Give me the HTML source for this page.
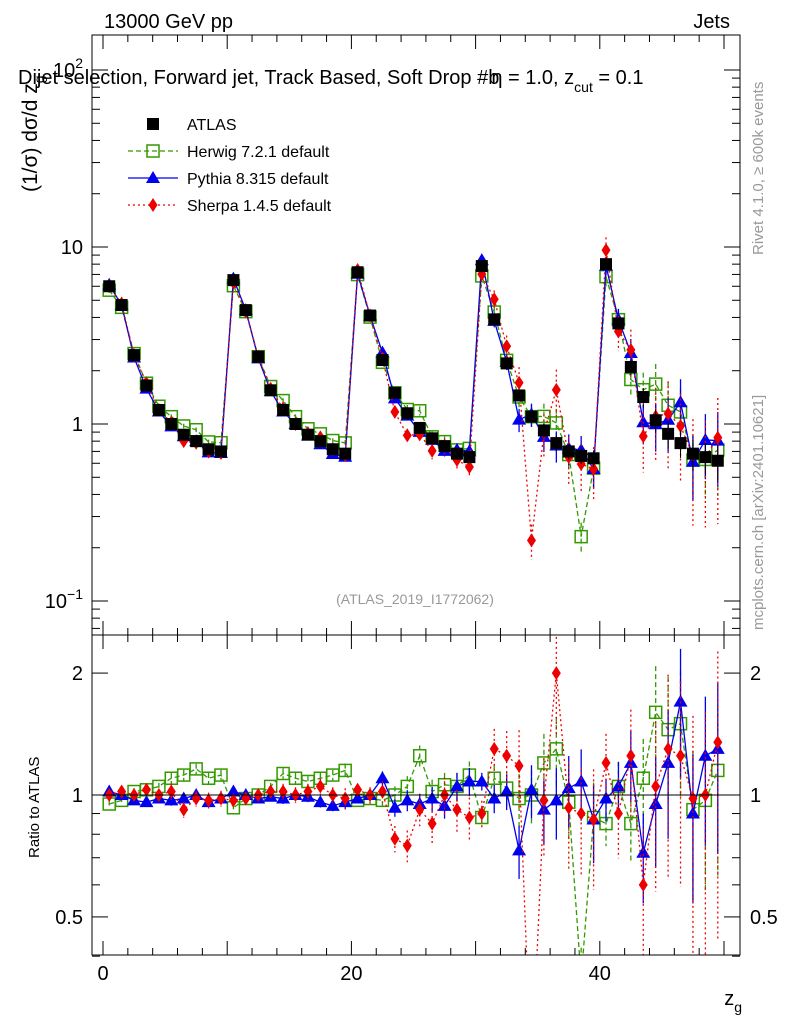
<!DOCTYPE html>
<html><head><meta charset="utf-8"><style>
body{margin:0;background:#fff;overflow:hidden}
svg{display:block;font-family:"Liberation Sans",sans-serif}
</style></head><body>
<svg id="c" width="786" height="1024" viewBox="0 0 786 1024"></svg>
<script>
const atlas=[6.0,4.7,2.45,1.65,1.2,1.0,0.87,0.8,0.72,0.7,
6.5,4.4,2.4,1.55,1.2,1.0,0.87,0.8,0.72,0.68,
7.2,4.1,2.3,1.5,1.15,0.95,0.83,0.75,0.68,0.65,
7.8,3.9,2.2,1.45,1.1,0.92,0.78,0.7,0.66,0.64,
8.0,3.7,2.1,1.42,1.05,0.88,0.78,0.68,0.65,0.62];
const herwigRatio=[0.95,0.97,1.02,1.03,1.05,1.1,1.12,1.16,1.1,1.12,
0.93,0.98,1.0,1.05,1.13,1.1,1.08,1.1,1.12,1.15,
0.97,0.98,0.97,1.0,1.05,1.25,1.02,1.06,1.05,1.12,
0.88,1.1,1.04,0.98,1.0,1.2,1.3,0.96,0.35,0.88,
0.85,1.05,0.85,1.1,1.6,1.45,1.5,0.92,0.97,1.15];
const pythiaRatio=[1.02,1.0,0.97,0.96,0.98,0.97,0.98,1.0,0.96,0.98,
1.02,1.0,0.98,0.99,0.98,1.0,0.99,0.96,0.94,0.96,
0.98,1.0,1.1,0.93,0.97,0.95,0.98,0.94,1.05,1.08,
1.08,0.98,1.02,0.73,1.03,0.92,0.97,1.04,1.08,0.87,
0.98,1.05,1.2,0.72,0.95,1.2,1.7,0.9,1.25,1.3];
const sherpaRatio=[1.0,1.02,1.0,1.03,1.0,1.02,0.92,0.98,0.97,0.98,
0.97,0.98,1.0,1.02,1.02,1.0,1.02,1.05,1.0,0.98,
1.03,1.0,1.02,0.78,0.75,0.92,0.85,1.0,0.92,0.88,
0.9,1.3,1.25,1.18,0.2,0.97,2.0,0.93,0.9,0.87,
1.2,0.9,1.25,0.6,1.05,1.3,1.25,0.98,1.0,1.35];
const relErr=[0.02,0.02,0.02,0.02,0.02,0.03,0.03,0.03,0.03,0.03,
0.02,0.02,0.02,0.02,0.03,0.03,0.03,0.03,0.03,0.04,
0.02,0.03,0.04,0.05,0.06,0.06,0.07,0.07,0.08,0.08,
0.05,0.08,0.1,0.15,0.15,0.18,0.2,0.2,0.2,0.22,
0.12,0.15,0.2,0.25,0.3,0.35,0.35,0.4,0.4,0.45];
const xTicks=[0,20,40];
const SVGNS="http://www.w3.org/2000/svg";
const svg=document.getElementById('c');
function el(t,a,p){const e=document.createElementNS(SVGNS,t);for(const k in a)e.setAttribute(k,a[k]);(p||svg).appendChild(e);return e;}
const L=92,R=740,T=35,M=635,B=955;
const X=v=>103+v*12.42;
const Y=v=>424-Math.log10(v)*177;
const YR=v=>795-Math.log10(v)*405;
const defs=el('defs',{});
const c1=el('clipPath',{id:'cm'},defs);el('rect',{x:L,y:T,width:R-L,height:M-T},c1);
const c2=el('clipPath',{id:'cr'},defs);el('rect',{x:L,y:M,width:R-L,height:B-M},c2);
const gm=el('g',{'clip-path':'url(#cm)'});
const gr=el('g',{'clip-path':'url(#cr)'});
const f1=el('rect',{x:L,y:T,width:R-L,height:M-T,fill:'none',stroke:'#000'});

const f2=el('rect',{x:L,y:M,width:R-L,height:B-M,fill:'none',stroke:'#000'});

el('line',{x1:L,x2:R,y1:YR(1),y2:YR(1),stroke:'#000'});
for(let v=0;v<=50;v+=2){const maj=v%10==0;const h=maj?14:7;
 for(const [a,b] of [[T,M],[M,B]]){el('line',{x1:X(v),x2:X(v),y1:b,y2:b-h,stroke:'#000'});el('line',{x1:X(v),x2:X(v),y1:a,y2:a+h,stroke:'#000'});}}
xTicks.forEach(v=>{const t=el('text',{x:X(v),y:980,'font-size':20,'text-anchor':'middle'});t.textContent=v;});
for(let d=-2;d<=2;d++)for(let m=1;m<10;m++){const v=m*Math.pow(10,d);const y=Y(v);if(y<T||y>M)continue;const h=m==1?16:8;
 el('line',{x1:L,x2:L+h,y1:y,y2:y,stroke:'#000'});el('line',{x1:R,x2:R-h,y1:y,y2:y,stroke:'#000'});}
[[10,'10'],[1,'1']].forEach(([v,s])=>{const t=el('text',{x:83,y:Y(v)+7,'font-size':20,'text-anchor':'end'});t.textContent=s;});
let t=el('text',{x:83,y:Y(0.1)+7,'font-size':20,'text-anchor':'end'});t.innerHTML='10<tspan dy="-9" font-size="14">−1</tspan>';
t=el('text',{x:83,y:Y(100)+7,'font-size':20,'text-anchor':'end'});t.innerHTML='10<tspan dy="-9" font-size="14">2</tspan>';
[0.4,0.5,0.6,0.7,0.8,0.9,1,2].forEach(v=>{const y=YR(v);const h=(v==0.5||v==1||v==2)?16:8;
 el('line',{x1:L,x2:L+h,y1:y,y2:y,stroke:'#000'});el('line',{x1:R,x2:R-h,y1:y,y2:y,stroke:'#000'});});
[[2,'2'],[1,'1'],[0.5,'0.5']].forEach(([v,s])=>{for(const [x,a] of [[83,'end'],[750,'start']]){const tt=el('text',{x:x,y:YR(v)+7,'font-size':20,'text-anchor':a});tt.textContent=s;}});
const series=[
 {name:'herwig',ratio:herwigRatio,color:'#339900',dash:'5,3',mk:'sq',ef:1},
 {name:'pythia',ratio:pythiaRatio,color:'#0000ee',dash:'',mk:'tri',ef:1},
 {name:'sherpa',ratio:sherpaRatio,color:'#ee0000',dash:'2,3',mk:'dia',ef:1.5}];
function marker(g,mk,x,y,c){
 if(mk=='sq')el('rect',{x:x-6,y:y-6,width:12,height:12,fill:'none',stroke:c,'stroke-width':1.5},g);
 else if(mk=='tri')el('polygon',{points:`${x},${y-7} ${x-7},${y+5} ${x+7},${y+5}`,fill:c},g);
 else if(mk=='dia')el('polygon',{points:`${x},${y-7} ${x-4.5},${y} ${x},${y+7} ${x+4.5},${y}`,fill:c},g);
 else el('rect',{x:x-6,y:y-6,width:12,height:12,fill:c},g);}
series.forEach(s=>{
 for(const [g,fy,val] of [[gm,Y,i=>atlas[i]*s.ratio[i]],[gr,YR,i=>s.ratio[i]]]){
  const sg=el('g',{},g);
  const pts=atlas.map((a,i)=>X(i+0.5)+','+fy(val(i))).join(' ');
  el('polyline',{points:pts,fill:'none',stroke:s.color,'stroke-width':1.3,'stroke-dasharray':s.dash},sg);
  atlas.forEach((a,i)=>{const v=val(i),e=relErr[i]*s.ef,x=X(i+0.5);
   el('line',{x1:x,x2:x,y1:fy(v*(1+e)),y2:fy(Math.max(v*(1-e),0.01)),stroke:s.color,'stroke-width':1.3,'stroke-dasharray':s.dash},sg);
   marker(sg,s.mk,x,fy(v),s.color);});
 }});
const ag=el('g',{},gm);
atlas.forEach((a,i)=>{const x=X(i+0.5);el('line',{x1:x,x2:x,y1:Y(a*(1+relErr[i]*0.5)),y2:Y(a*(1-relErr[i]*0.5)),stroke:'#000'},ag);marker(ag,'bk',x,Y(a),'#000');});
const lg=el('g',{});
[['ATLAS','bk','#000',''],['Herwig 7.2.1 default','sq','#339900','5,3'],['Pythia 8.315 default','tri','#0000ee',''],['Sherpa 1.4.5 default','dia','#ee0000','2,3']].forEach(([n,mk,c,d],k)=>{
 const y=124+k*27;const e=el('g',{},lg);
 if(k>0)el('line',{x1:128,x2:178,y1:y,y2:y,stroke:c,'stroke-dasharray':d,'stroke-width':1.3},e);
 marker(e,mk,153,y,c);const tt=el('text',{x:187,y:y+6,'font-size':16},e);tt.textContent=n;});
function txt(x,y,s,fs,extra,name){const tt=el('text',Object.assign({x:x,y:y,'font-size':fs},extra||{}));tt.innerHTML=s;return tt;}
txt(104,28,'13000 GeV pp',20,{},'energy-label');
txt(730,28,'Jets',20,{'text-anchor':'end'},'process-label');
txt(18,84,'Dijet selection, Forward jet, Track Based, Soft Drop #b<tspan dx="-8">η</tspan> = 1.0, z<tspan dy="8" font-size="14">cut</tspan><tspan dy="-8"> = 0.1</tspan>',20,{},'plot-title');
txt(415,604,'(ATLAS_2019_I1772062)',14,{fill:'#999','text-anchor':'middle'},'analysis-id');
txt(742,1005,'z<tspan dy="7" font-size="14">g</tspan>',20,{'text-anchor':'end'},'x-axis-title');
txt(0,0,'(1/σ) dσ/d z<tspan dy="7" font-size="14">g</tspan>',21,{transform:'translate(37,192) rotate(-90)'},'y-axis-title');
txt(0,0,'Ratio to ATLAS',15,{transform:'translate(39,858) rotate(-90)'},'ratio-axis-title');
txt(0,0,'Rivet 4.1.0, ≥ 600k events',15,{transform:'translate(763,255) rotate(-90)',fill:'#999'},'rivet-label');
txt(0,0,'mcplots.cern.ch [arXiv:2401.10621]',15,{transform:'translate(763,630) rotate(-90)',fill:'#999'},'mcplots-label');
</script>
</body></html>
